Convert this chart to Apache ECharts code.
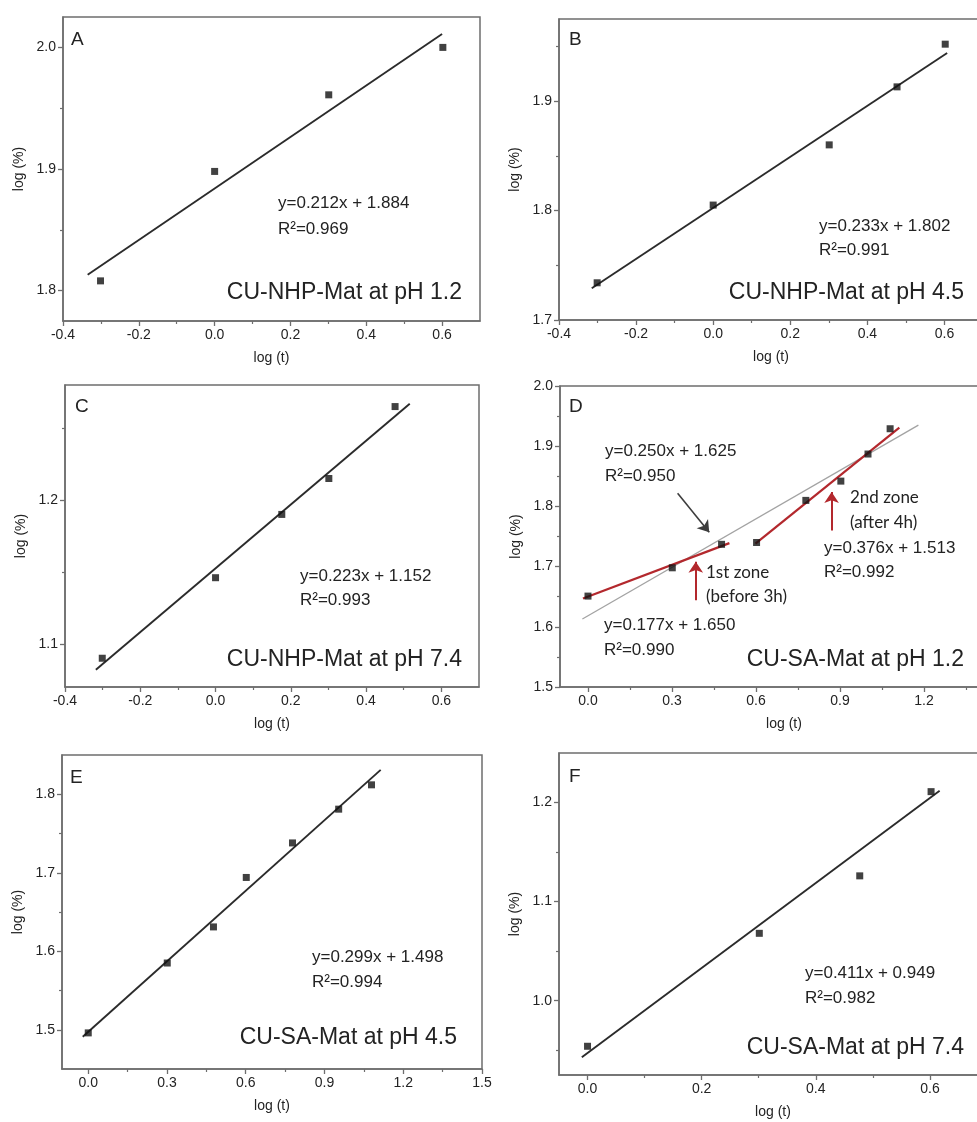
<!DOCTYPE html>
<html>
<head>
<meta charset="utf-8">
<script src="https://cdn.jsdelivr.net/npm/echarts@6/dist/echarts.min.js"></script>
<style>
  html, body { margin: 0; padding: 0; background: #fff; }
  #main { width: 977px; height: 1122px; }
</style>
</head>
<body>
<div id="main"></div>
<script>
// ---- data ----
// A: CU-NHP-Mat at pH 1.2
const xA = [-0.301, 0, 0.301, 0.602];
const yA = [1.808, 1.898, 1.961, 2.0];
const fitAX = [-0.335, 0.6];
const fitAY = [1.813, 2.011];
// B: CU-NHP-Mat at pH 4.5
const xB = [-0.301, 0, 0.301, 0.477, 0.602];
const yB = [1.734, 1.805, 1.860, 1.913, 1.952];
const fitBX = [-0.315, 0.607];
const fitBY = [1.729, 1.944];
// C: CU-NHP-Mat at pH 7.4
const xC = [-0.301, 0, 0.176, 0.301, 0.477];
const yC = [1.090, 1.146, 1.190, 1.215, 1.265];
const fitCX = [-0.318, 0.516];
const fitCY = [1.082, 1.267];
// D: CU-SA-Mat at pH 1.2
const xD = [0, 0.301, 0.477, 0.602, 0.778, 0.903, 1.0, 1.079];
const yD = [1.651, 1.698, 1.737, 1.740, 1.810, 1.842, 1.887, 1.929];
const fitDX = [-0.02, 1.18];
const fitDY = [1.613, 1.935];
const zone1X = [-0.018, 0.505];
const zone1Y = [1.647, 1.739];
const zone2X = [0.598, 1.112];
const zone2Y = [1.738, 1.931];
// E: CU-SA-Mat at pH 4.5
const xE = [0, 0.301, 0.477, 0.602, 0.778, 0.954, 1.079];
const yE = [1.496, 1.585, 1.631, 1.694, 1.738, 1.781, 1.812];
const fitEX = [-0.021, 1.114];
const fitEY = [1.491, 1.831];
// F: CU-SA-Mat at pH 7.4
const xF = [0, 0.301, 0.477, 0.602];
const yF = [0.954, 1.068, 1.126, 1.211];
const fitFX = [-0.01, 0.617];
const fitFY = [0.943, 1.212];

// tick values
const ticksX1 = [-0.4, -0.2, 0, 0.2, 0.4, 0.6];
const minorX1 = [-0.3, -0.1, 0.1, 0.3, 0.5];
const ticksX2 = [0, 0.3, 0.6, 0.9, 1.2, 1.5];
const minorX2 = [0.15, 0.45, 0.75, 1.05, 1.35];
const ticksX3 = [0, 0.2, 0.4, 0.6];
const minorX3 = [0.1, 0.3, 0.5];
const ticksYA = [1.8, 1.9, 2.0];
const minorYA = [1.85, 1.95];
const ticksYB = [1.7, 1.8, 1.9];
const minorYB = [1.75, 1.85, 1.95];
const ticksYC = [1.1, 1.2];
const minorYC = [1.15, 1.25];
const ticksYD = [1.5, 1.6, 1.7, 1.8, 1.9, 2.0];
const minorYD = [1.55, 1.65, 1.75, 1.85, 1.95];
const ticksYE = [1.5, 1.6, 1.7, 1.8];
const minorYE = [1.55, 1.65, 1.75];
const ticksYF = [1.0, 1.1, 1.2];
const minorYF = [0.95, 1.05, 1.15];

const ink = '#232323';
const frame = '#6e6e6e';
const sans = "'Liberation Sans', Arial, sans-serif";
const zip = (a, b) => a.map((v, i) => [v, b[i]]);

// layout of the six panels (pixels); B, D, F run past the right edge like the original crop
const panels = [
  { grid: { left: 63, top: 17, width: 417, height: 304 }, xr: [-0.4, 0.7], xt: ticksX1, xm: minorX1, yr: [1.775, 2.025], yt: ticksYA, ym: minorYA, pts: zip(xA, yA), fit: zip(fitAX, fitAY) },
  { grid: { left: 559, top: 19, width: 424, height: 301 }, xr: [-0.4, 0.7], xt: ticksX1, xm: minorX1, yr: [1.7, 1.975], yt: ticksYB, ym: minorYB, pts: zip(xB, yB), fit: zip(fitBX, fitBY) },
  { grid: { left: 65, top: 385, width: 414, height: 302 }, xr: [-0.4, 0.7], xt: ticksX1, xm: minorX1, yr: [1.07, 1.28], yt: ticksYC, ym: minorYC, pts: zip(xC, yC), fit: zip(fitCX, fitCY) },
  { grid: { left: 560, top: 386, width: 448, height: 301 }, xr: [-0.1, 1.5], xt: ticksX2, xm: minorX2, yr: [1.5, 2.0], yt: ticksYD, ym: minorYD, pts: zip(xD, yD), fit: zip(fitDX, fitDY) },
  { grid: { left: 62, top: 755, width: 420, height: 314 }, xr: [-0.1, 1.5], xt: ticksX2, xm: minorX2, yr: [1.45, 1.85], yt: ticksYE, ym: minorYE, pts: zip(xE, yE), fit: zip(fitEX, fitEY) },
  { grid: { left: 559, top: 753, width: 428, height: 322 }, xr: [-0.05, 0.7], xt: ticksX3, xm: minorX3, yr: [0.925, 1.25], yt: ticksYF, ym: minorYF, pts: zip(xF, yF), fit: zip(fitFX, fitFY) }
];

const grids = [], xAxes = [], yAxes = [], series = [];
panels.forEach((p, i) => {
  grids.push(Object.assign({
    show: true, borderColor: frame, borderWidth: 1.5, backgroundColor: 'transparent',
    containLabel: false, outerBoundsMode: 'none'
  }, p.grid));
  const base = (gridIndex, range, position) => ({
    type: 'value', gridIndex, min: range[0], max: range[1], position,
    splitLine: { show: false }
  });
  // major axes: labels + long ticks
  xAxes.push(Object.assign(base(i, p.xr, 'bottom'), {
    name: 'log (t)', nameLocation: 'middle', nameGap: 30,
    nameTextStyle: { fontSize: 14, color: ink, fontFamily: sans },
    axisLine: { show: true, onZero: false, lineStyle: { color: frame, width: 1.5 } },
    axisTick: { show: true, length: 5, customValues: p.xt, lineStyle: { color: frame, width: 1.3 } },
    axisLabel: { customValues: p.xt, formatter: v => v.toFixed(1), fontSize: 14, color: ink, fontFamily: sans, margin: 7 }
  }));
  yAxes.push(Object.assign(base(i, p.yr, 'left'), {
    name: 'log (%)', nameLocation: 'middle', nameGap: 37,
    nameTextStyle: { fontSize: 14, color: ink, fontFamily: sans },
    axisLine: { show: true, onZero: false, lineStyle: { color: frame, width: 1.5 } },
    axisTick: { show: true, length: 5, customValues: p.yt, lineStyle: { color: frame, width: 1.3 } },
    axisLabel: { customValues: p.yt, formatter: v => v.toFixed(1), fontSize: 14, color: ink, fontFamily: sans, margin: 7 }
  }));
  // minor axes: short ticks only
  xAxes.push(Object.assign(base(i, p.xr, 'bottom'), {
    axisLine: { show: false, onZero: false },
    axisTick: { show: true, length: 3, customValues: p.xm, lineStyle: { color: frame, width: 1.2 } },
    axisLabel: { show: false }
  }));
  yAxes.push(Object.assign(base(i, p.yr, 'left'), {
    axisLine: { show: false, onZero: false },
    axisTick: { show: true, length: 3, customValues: p.ym, lineStyle: { color: frame, width: 1.2 } },
    axisLabel: { show: false }
  }));

  const isD = i === 3;
  series.push({
    type: 'line', xAxisIndex: 2 * i, yAxisIndex: 2 * i, symbol: 'none', z: 3,
    lineStyle: isD ? { color: '#a3a3a3', width: 1.3 } : { color: '#2b2b2b', width: 1.9 },
    data: p.fit
  });
  const sc = {
    type: 'scatter', xAxisIndex: 2 * i, yAxisIndex: 2 * i, symbol: 'rect', symbolSize: 7, z: 6,
    itemStyle: { color: '#111' }, data: p.pts
  };
  if (isD) {
    sc.markLine = {
      silent: true, symbol: ['none', 'arrow'], symbolSize: 11,
      label: { show: false },
      data: [
        [{ coord: [0.385, 1.644], lineStyle: { color: '#b3282d', width: 2, type: 'solid' }, itemStyle: { color: '#b3282d' } }, { coord: [0.385, 1.708] }],
        [{ coord: [0.870, 1.760], lineStyle: { color: '#b3282d', width: 2, type: 'solid' }, itemStyle: { color: '#b3282d' } }, { coord: [0.870, 1.824] }],
        [{ coord: [0.32, 1.822], lineStyle: { color: '#3d3d3d', width: 1.6, type: 'solid' }, itemStyle: { color: '#3d3d3d' } }, { coord: [0.433, 1.757] }]
      ]
    };
  }
  series.push(sc);
});

// the two fitted zones of panel D
[zip(zone1X, zone1Y), zip(zone2X, zone2Y)].forEach(d => {
  series.push({
    type: 'line', xAxisIndex: 6, yAxisIndex: 6, symbol: 'none', z: 4,
    lineStyle: { color: '#b3282d', width: 2.2 }, data: d
  });
});

// annotation texts
const txt = (x, y, s, size, align, family) => ({
  type: 'text', x, y, z: 100,
  style: { text: s, font: size + 'px ' + (family || sans), fill: ink, textAlign: align || 'left', textVerticalAlign: 'middle' }
});
const graphic = [
  txt(71, 40, 'A', 19), txt(278, 203, 'y=0.212x + 1.884', 17), txt(278, 229, 'R²=0.969', 17),
  txt(462, 293, 'CU-NHP-Mat at pH 1.2', 23, 'right'),
  txt(569, 40, 'B', 19), txt(819, 226, 'y=0.233x + 1.802', 17), txt(819, 250, 'R²=0.991', 17),
  txt(964, 293, 'CU-NHP-Mat at pH 4.5', 23, 'right'),
  txt(75, 407, 'C', 19), txt(300, 576, 'y=0.223x + 1.152', 17), txt(300, 600, 'R²=0.993', 17),
  txt(462, 660, 'CU-NHP-Mat at pH 7.4', 23, 'right'),
  txt(569, 407, 'D', 19),
  txt(605, 451, 'y=0.250x + 1.625', 17), txt(605, 476, 'R²=0.950', 17),
  txt(706, 573, '1st zone', 17, 'left', 'Lato, sans-serif'), txt(706, 597, '(before 3h)', 17, 'left', 'Lato, sans-serif'),
  txt(850, 498, '2nd zone', 17, 'left', 'Lato, sans-serif'), txt(850, 523, '(after 4h)', 17, 'left', 'Lato, sans-serif'),
  txt(824, 548, 'y=0.376x + 1.513', 17), txt(824, 572, 'R²=0.992', 17),
  txt(604, 625, 'y=0.177x + 1.650', 17), txt(604, 650, 'R²=0.990', 17),
  txt(964, 660, 'CU-SA-Mat at pH 1.2', 23, 'right'),
  txt(70, 778, 'E', 19), txt(312, 957, 'y=0.299x + 1.498', 17), txt(312, 982, 'R²=0.994', 17),
  txt(457, 1038, 'CU-SA-Mat at pH 4.5', 23, 'right'),
  txt(569, 777, 'F', 19), txt(805, 973, 'y=0.411x + 0.949', 17), txt(805, 998, 'R²=0.982', 17),
  txt(964, 1048, 'CU-SA-Mat at pH 7.4', 23, 'right')
];

const chart = echarts.init(document.getElementById('main'), null, { renderer: 'canvas' });
chart.setOption({
  animation: false,
  backgroundColor: '#fff',
  grid: grids,
  xAxis: xAxes,
  yAxis: yAxes,
  series: series,
  graphic: graphic
});
</script>
</body>
</html>
